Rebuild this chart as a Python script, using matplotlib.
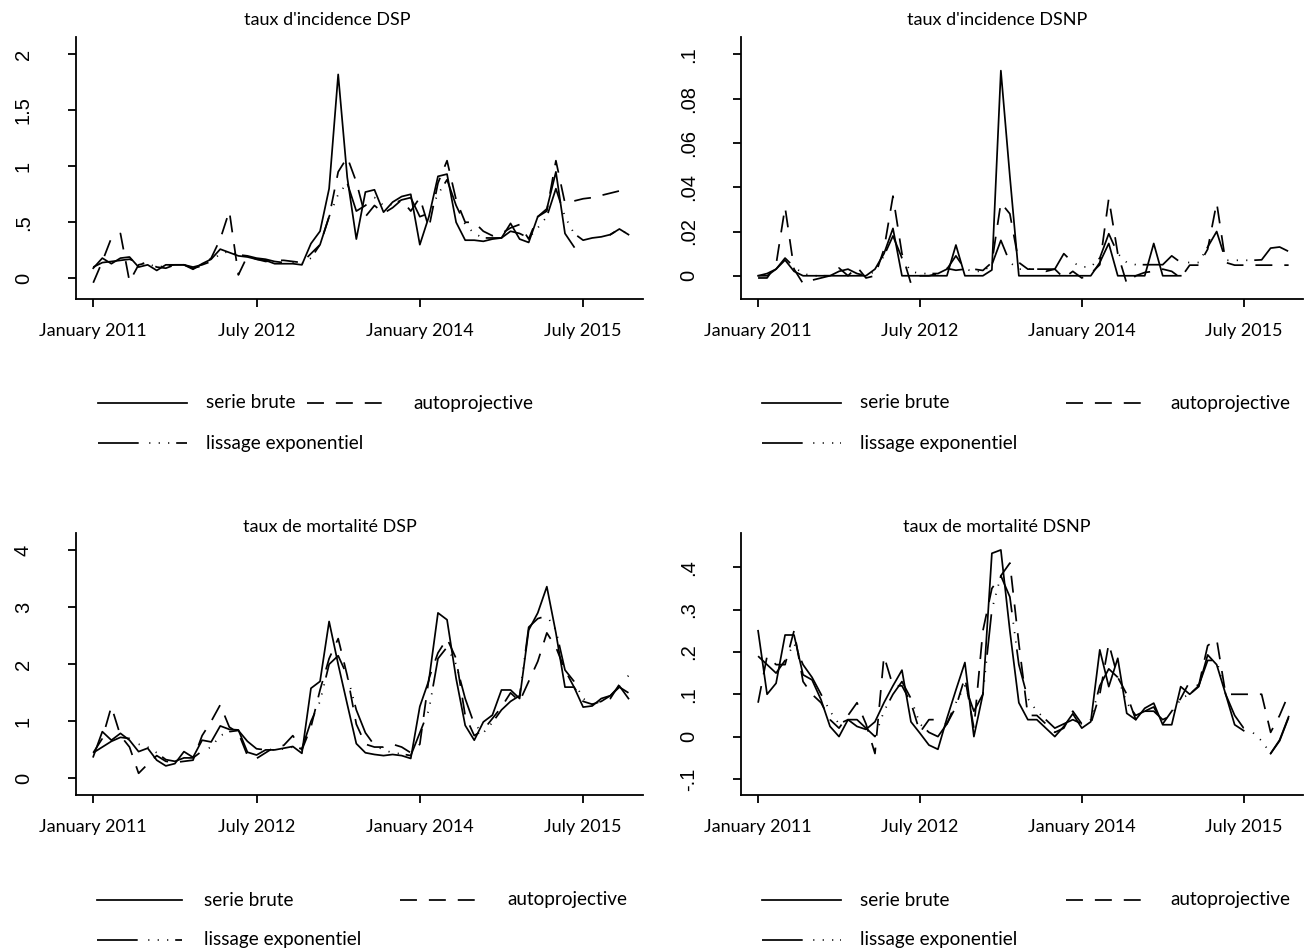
import numpy as np
import matplotlib
matplotlib.use('Agg')
import matplotlib.pyplot as plt
from matplotlib.lines import Line2D

plt.rcParams['lines.scale_dashes'] = False

nan = np.nan
months = np.arange(60)
tick_pos = [0, 18, 36, 54]
tick_labels = ['January 2011', 'July 2012', 'January 2014', 'July 2015']

# ---------------- taux d'incidence DSP ----------------
inc_dsp_brute = [0.09, 0.18, 0.13, 0.18, 0.19, 0.10, 0.12, 0.07, 0.12, 0.12,
                 0.12, 0.08, 0.13, 0.17, 0.26, 0.23, 0.20, 0.19, 0.17, 0.16,
                 0.13, 0.13, 0.13, 0.12, 0.31, 0.42, 0.80, 1.82, 0.90, 0.35,
                 0.77, 0.79, 0.59, 0.68, 0.73, 0.75, 0.30, 0.55, 0.91, 0.93,
                 0.50, 0.34, 0.34, 0.33, 0.35, 0.36, 0.49, 0.35, 0.32, 0.55,
                 0.62, 0.95, 0.40, 0.28, nan, nan, nan, 0.39, 0.44, 0.39]
inc_dsp_auto = [-0.04, 0.15, 0.36, 0.40, -0.03, 0.12, 0.14, 0.10, 0.09, 0.12,
                0.12, 0.09, 0.11, 0.18, 0.35, 0.60, 0.03, 0.20, 0.17, 0.15,
                0.16, 0.16, 0.15, 0.14, 0.22, 0.30, 0.55, 0.95, 1.08, 0.86,
                0.55, 0.65, 0.58, 0.63, 0.70, 0.60, 0.72, 0.45, 0.85, 1.05,
                0.70, 0.50, 0.50, 0.42, 0.38, 0.40, 0.45, 0.48, 0.35, 0.55,
                0.60, 1.05, 0.67, 0.69, 0.71, 0.72, 0.74, 0.76, 0.78, 0.79]
inc_dsp_liss = [0.10, 0.14, 0.15, 0.16, 0.17, 0.14, 0.13, 0.10, 0.11, 0.12,
                0.12, 0.10, 0.12, 0.15, 0.22, 0.24, 0.21, 0.20, 0.18, 0.17,
                0.15, 0.14, 0.14, 0.13, 0.18, 0.30, 0.55, 0.75, 0.85, 0.60,
                0.65, 0.72, 0.65, 0.66, 0.70, 0.72, 0.55, 0.58, 0.75, 0.88,
                0.65, 0.48, 0.40, 0.36, 0.36, 0.36, 0.42, 0.40, 0.36, 0.45,
                0.55, 0.80, 0.55, 0.40, 0.34, 0.36, 0.37, 0.39, 0.44, 0.39]

# ---------------- taux d'incidence DSNP ----------------
inc_dsnp_brute = [0, 0, 0.003, 0.0071, 0.002, 0, 0, 0, 0, 0,
                  0, 0, 0, 0.003, 0.010, 0.0214, 0, 0, 0, 0,
                  0, 0, 0.0139, 0, 0, 0, 0.0026, 0.0927, 0.045, 0,
                  0, 0, 0, 0, 0, 0, 0, 0, 0.006, 0.0146,
                  0, 0, 0, 0, 0.0146, 0, 0, 0, nan, nan,
                  nan, nan, nan, nan, nan, nan, nan, nan, nan, nan]
inc_dsnp_auto = [-0.001, -0.001, 0.005, 0.031, 0.003, -0.0035, -0.002, -0.001, 0, 0.0035,
                 0, 0.004, -0.001, 0, 0.012, 0.036, 0.010, -0.0035, 0, 0,
                 0.001, 0.0033, 0.0025, 0.003, 0.003, 0.0024, 0.006, 0.033, 0.028, 0.006,
                 0.003, 0.003, 0.002, 0.003, -0.001, 0.002, -0.001, 0.001, 0.005, 0.035,
                 0.010, -0.0035, 0, 0.0015, 0.002, 0.003, 0.002, -0.001, 0.0048, 0.0048,
                 0.012, 0.033, 0.006, 0.0048, 0.0048, 0.0048, 0.0048, 0.0048, 0.0048, 0.0048]
inc_dsnp_liss = [0, 0.001, 0.003, 0.008, 0.004, 0.001, 0, 0, 0, 0.002,
                 0.003, 0.001, 0, 0.002, 0.009, 0.018, 0.008, 0.002, 0.001, 0.001,
                 0.001, 0.003, 0.009, 0.003, 0.002, 0.002, 0.005, 0.016, 0.006, 0.003,
                 0.003, 0.003, 0.003, 0.003, 0.010, 0.006, 0.004, 0.004, 0.008, 0.019,
                 0.010, 0.006, 0.005, 0.005, 0.005, 0.005, 0.009, 0.006, 0.006, 0.006,
                 0.013, 0.020, 0.007, 0.007, 0.007, 0.007, 0.0072, 0.0125, 0.013, 0.011]

# ---------------- taux de mortalité DSP ----------------
mort_dsp_brute = [0.38, 0.82, 0.67, 0.79, 0.67, 0.47, 0.53, 0.32, 0.22, 0.26,
                  0.47, 0.37, 0.67, 0.64, 0.92, 0.86, 0.85, 0.46, 0.41, 0.50,
                  0.50, 0.53, 0.56, 0.44, 1.58, 1.70, 2.75, 2.00, 1.30, 0.61,
                  0.45, 0.42, 0.40, 0.42, 0.40, 0.35, 1.26, 1.72, 2.90, 2.78,
                  1.75, 0.93, 0.67, 0.99, 1.11, 1.55, 1.55, 1.40, 2.60, 2.90,
                  3.36, 2.55, 1.60, 1.60, 1.25, 1.27, 1.40, 1.45, 1.62, 1.40]
mort_dsp_auto = [0.45, 0.70, 1.26, 0.75, 0.55, 0.09, 0.25, 0.40, 0.30, 0.28,
                 0.30, 0.32, 0.75, 1.00, 1.29, 0.90, 0.80, 0.40, 0.35, 0.45,
                 0.55, 0.58, 0.75, 0.50, 0.90, 1.55, 2.10, 2.45, 1.80, 0.95,
                 0.60, 0.55, 0.55, 0.60, 0.55, 0.45, 0.60, 1.75, 2.20, 2.45,
                 2.10, 1.10, 0.75, 0.85, 1.05, 1.25, 1.50, 1.35, 1.70, 2.05,
                 2.55, 2.30, 1.90, 1.60, 1.35, 1.30, 1.35, 1.40, 1.65, 1.80]
mort_dsp_liss = [0.45, 0.55, 0.65, 0.72, 0.70, 0.60, 0.55, 0.45, 0.33, 0.30,
                 0.36, 0.36, 0.48, 0.55, 0.75, 0.82, 0.84, 0.65, 0.52, 0.50,
                 0.50, 0.52, 0.55, 0.52, 1.00, 1.35, 2.00, 2.15, 1.80, 1.20,
                 0.80, 0.58, 0.50, 0.45, 0.43, 0.40, 0.80, 1.20, 2.10, 2.30,
                 2.00, 1.40, 0.95, 0.80, 0.98, 1.20, 1.35, 1.45, 2.65, 2.80,
                 2.85, 2.60, 1.90, 1.70, 1.40, 1.30, 1.35, 1.45, 1.60, 1.50]

# ---------------- taux de mortalité DSNP ----------------
mort_dsnp_brute = [0.25, 0.10, 0.126, 0.24, 0.24, 0.146, 0.134, 0.087, 0.024, 0.0,
                   0.04, 0.024, 0.017, 0.035, 0.08, 0.12, 0.157, 0.035, 0.008, -0.02,
                   -0.03, 0.043, 0.11, 0.175, 0.0, 0.10, 0.433, 0.441, 0.25, 0.08,
                   0.04, 0.04, 0.02, 0.0, 0.024, 0.054, 0.02, 0.035, 0.205, 0.118,
                   0.185, 0.055, 0.04, 0.067, 0.079, 0.028, 0.028, 0.118, 0.10, 0.118,
                   0.193, 0.17, 0.10, 0.028, 0.014, nan, nan, -0.04, -0.008, 0.047]
mort_dsnp_auto = [0.08, 0.19, 0.17, 0.17, 0.25, 0.13, 0.10, 0.08, 0.04, 0.02,
                  0.05, 0.08, 0.03, -0.04, 0.19, 0.12, 0.12, 0.08, 0.01, 0.04,
                  0.04, 0.03, 0.07, 0.14, 0.02, 0.25, 0.35, 0.38, 0.41, 0.22,
                  0.05, 0.05, 0.03, 0.01, 0.02, 0.06, 0.03, 0.03, 0.10, 0.22,
                  0.14, 0.10, 0.04, 0.06, 0.07, 0.03, 0.06, 0.09, 0.13, 0.12,
                  0.215, 0.23, 0.10, 0.10, 0.10, 0.10, 0.10, 0.01, 0.05, 0.10]
mort_dsnp_liss = [0.19, 0.17, 0.15, 0.18, 0.22, 0.17, 0.14, 0.10, 0.06, 0.03,
                  0.04, 0.04, 0.02, 0.0, 0.06, 0.10, 0.13, 0.09, 0.03, 0.01,
                  0.0, 0.03, 0.08, 0.12, 0.06, 0.10, 0.30, 0.38, 0.33, 0.17,
                  0.09, 0.06, 0.04, 0.02, 0.03, 0.04, 0.03, 0.04, 0.12, 0.16,
                  0.14, 0.08, 0.05, 0.06, 0.06, 0.04, 0.05, 0.09, 0.10, 0.12,
                  0.18, 0.18, 0.10, 0.05, 0.02, 0.01, -0.01, -0.04, -0.01, 0.045]

titles = ["taux d'incidence DSP", "taux d'incidence DSNP",
          "taux de mortalité DSP", "taux de mortalité DSNP"]
series_names = ['serie brute', 'autoprojective', 'lissage exponentiel']

yticks_list = [[0, 0.5, 1, 1.5, 2],
               [0, 0.02, 0.04, 0.06, 0.08, 0.1],
               [0, 1, 2, 3, 4],
               [-0.1, 0, 0.1, 0.2, 0.3, 0.4]]
ytick_labels_list = [['0', '.5', '1', '1.5', '2'],
                     ['0', '.02', '.04', '.06', '.08', '.1'],
                     ['0', '1', '2', '3', '4'],
                     ['-.1', '0', '.1', '.2', '.3', '.4']]
ylims = [(-0.185, 2.154), (-0.0105, 0.1079), (-0.29, 4.30), (-0.138, 0.481)]

data = [(inc_dsp_brute, inc_dsp_auto, inc_dsp_liss),
        (inc_dsnp_brute, inc_dsnp_auto, inc_dsnp_liss),
        (mort_dsp_brute, mort_dsp_auto, mort_dsp_liss),
        (mort_dsnp_brute, mort_dsnp_auto, mort_dsnp_liss)]

W, H = 1314, 952
fig = plt.figure(figsize=(W / 100, H / 100), dpi=100)
fig.patch.set_facecolor('white')

TXT = ['Lato', 'DejaVu Sans']
NUM = ['Liberation Sans', 'DejaVu Sans']

LW = 1.25
style_brute = dict(color='black', lw=LW, linestyle='-')
style_auto = dict(color='black', lw=LW, linestyle=(0, (12.2, 8.6)))
style_liss = dict(color='black', lw=LW,
                  linestyle=(0, (29.3, 7.6, 0.8, 6.0, 0.8, 6.0, 0.8, 5.0)))

# axes boxes in pixels: (left, top, right, bottom)
boxes = [(76, 37, 643, 299), (741, 37, 1303, 299),
         (76, 533, 643, 795), (741, 533, 1303, 795)]
title_pos = [(327, 20), (997, 20), (330, 527), (997, 527)]

for k in range(4):
    l, t, r, b = boxes[k]
    ax = fig.add_axes([l / W, 1 - b / H, (r - l) / W, (b - t) / H])
    brute, auto, liss = data[k]
    ax.plot(months, brute, **style_brute)
    ax.plot(months, auto, **style_auto)
    ax.plot(months, liss, **style_liss)
    ax.set_xlim(-1.9, 60.6)
    ax.set_ylim(*ylims[k])
    ax.set_xticks(tick_pos)
    ax.set_xticklabels(tick_labels, fontfamily=TXT, fontsize=13)
    ax.set_yticks(yticks_list[k])
    ax.set_yticklabels(ytick_labels_list[k], fontfamily=NUM, fontsize=14.5,
                       rotation=90, va='center')
    for s in ['top', 'right']:
        ax.spines[s].set_visible(False)
    for s in ['left', 'bottom']:
        ax.spines[s].set_linewidth(1.3)
    ax.tick_params(axis='x', length=6, width=1.3, pad=11)
    ax.tick_params(axis='y', length=6, width=1.3, pad=25)
    fig.text(title_pos[k][0] / W, 1 - title_pos[k][1] / H, titles[k],
             ha='center', va='center', fontfamily=TXT, fontsize=13)

# legends (pixel layout)
legend_rows = [  # (sample x0, x1, text x, second sample x0, x1, second text x, row1 y, row2 y)
    (98, 187, 206, 307, 387, 413, 403, 443),
    (762, 841, 860, 1066, 1141, 1170, 403, 443),
    (97, 182, 204, 400, 480, 507, 900, 940),
    (762, 841, 860, 1066, 1141, 1170, 900, 940),
]

def fx(x):
    return x / W

def fy(y):
    return 1 - y / H

for (x0, x1, tx, x2, x3, tx2, y1, y2) in legend_rows:
    fig.add_artist(Line2D([fx(x0), fx(x1)], [fy(y1), fy(y1)],
                          transform=fig.transFigure, **style_brute))
    fig.text(fx(tx), fy(y1), series_names[0], ha='left', va='center',
             fontfamily=TXT, fontsize=13.6)
    fig.add_artist(Line2D([fx(x2), fx(x3)], [fy(y1), fy(y1)],
                          transform=fig.transFigure, **style_auto))
    fig.text(fx(tx2), fy(y1), series_names[1], ha='left', va='center',
             fontfamily=TXT, fontsize=13.6)
    fig.add_artist(Line2D([fx(x0), fx(x1)], [fy(y2), fy(y2)],
                          transform=fig.transFigure, **style_liss))
    fig.text(fx(tx), fy(y2), series_names[2], ha='left', va='center',
             fontfamily=TXT, fontsize=13.6)

fig.savefig('out.png', dpi=100)
